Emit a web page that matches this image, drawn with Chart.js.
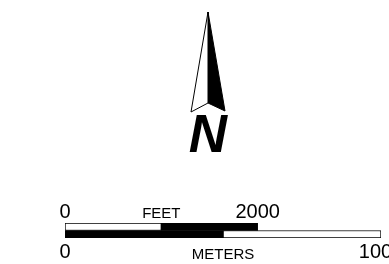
<!DOCTYPE html>
<html>
<head>
<meta charset="utf-8">
<script src="https://cdn.jsdelivr.net/npm/chart.js@4"></script>
<style>
  html, body { margin: 0; padding: 0; background: #fff; }
  #page { position: relative; width: 389px; height: 264px; overflow: hidden; }
  #arrowChart { position: absolute; left: 178px; top: 0; }
  #scaleChart { position: absolute; left: 0; top: 190px; }
</style>
</head>
<body>
<div id="page">
  <canvas id="arrowChart" width="60" height="160"></canvas>
  <canvas id="scaleChart" width="420" height="82"></canvas>
</div>
<script>
// north arrow outline (x across, y up from the base)
const arrowLeftX = [0, -17, 0, 0];
const arrowLeftY = [100, 0, 9, 100];
const arrowRightX = [0, 0, 17, 0];
const arrowRightY = [100, 9, 1, 100];
const northLabel = "N";

// scale bar
const units = ["FEET", "METERS"];
const feetSegments = [[0, 1000], [1000, 2000]];
const meterSegments = [[0, 500], [500, 1000]];
const feetSegmentColors = ["#ffffff", "#000000"];
const meterSegmentColors = ["#000000", "#ffffff"];
const feetTicks = [0, 1000, 2000];
const feetTickLabels = ["0", "FEET", "2000"];
const meterTicks = [0, 500, 1000];
const meterTickLabels = ["0", "METERS", "1000"];
const FEET_TO_M = 0.3048;

Chart.defaults.font.family = "'Liberation Sans', Arial, sans-serif";
Chart.defaults.color = "#000";

const toPoints = (xs, ys) => xs.map((x, i) => ({ x: x, y: ys[i] }));

new Chart(document.getElementById("arrowChart").getContext("2d"), {
  type: "scatter",
  data: {
    datasets: [
      {
        data: toPoints(arrowLeftX, arrowLeftY),
        showLine: true,
        fill: "shape",
        backgroundColor: "#ffffff",
        borderColor: "#000000",
        borderWidth: 1
      },
      {
        data: toPoints(arrowRightX, arrowRightY),
        showLine: true,
        fill: "shape",
        backgroundColor: "#000000",
        borderColor: "#000000",
        borderWidth: 1
      }
    ]
  },
  options: {
    responsive: false,
    animation: false,
    events: [],
    devicePixelRatio: 1,
    layout: { padding: { top: 10, bottom: 0 } },
    elements: { point: { radius: 0 }, line: { tension: 0 } },
    plugins: {
      legend: { display: false },
      tooltip: { enabled: false },
      title: {
        display: true,
        text: northLabel,
        position: "bottom",
        padding: 0,
        color: "#000",
        font: {
          family: "'Liberation Sans Narrow', 'Liberation Sans', Arial, sans-serif",
          size: 53,
          style: "italic",
          weight: "bold",
          lineHeight: "46px"
        }
      }
    },
    scales: {
      x: { type: "linear", min: -30, max: 30, display: false },
      y: { type: "linear", min: -2, max: 102, display: false }
    }
  }
});

const tickFont = (bigLH, smallLH) => (ctx) => ctx.index === 1
  ? { size: 15, lineHeight: smallLH + "px" }
  : { size: 20, lineHeight: bigLH + "px" };

new Chart(document.getElementById("scaleChart").getContext("2d"), {
  type: "bar",
  data: {
    labels: units,
    datasets: [
      { data: [feetSegments[0], null], backgroundColor: feetSegmentColors[0], borderWidth: 1, xAxisID: "feet" },
      { data: [feetSegments[1], null], backgroundColor: feetSegmentColors[1], borderWidth: 0, xAxisID: "feet" },
      { data: [null, meterSegments[0]], backgroundColor: meterSegmentColors[0], borderWidth: 0, xAxisID: "meters" },
      { data: [null, meterSegments[1]], backgroundColor: meterSegmentColors[1], borderWidth: 1, xAxisID: "meters" }
    ]
  },
  options: {
    indexAxis: "y",
    responsive: false,
    animation: false,
    events: [],
    devicePixelRatio: 1,
    layout: { padding: { left: 65, right: 39, top: 11, bottom: 0 } },
    datasets: {
      bar: {
        grouped: false,
        barPercentage: 1,
        categoryPercentage: 1,
        borderColor: "#000000",
        borderSkipped: false
      }
    },
    plugins: {
      legend: { display: false },
      tooltip: { enabled: false }
    },
    scales: {
      y: { type: "category", display: false },
      feet: {
        type: "linear",
        axis: "x",
        position: "top",
        min: 0,
        max: meterTicks[meterTicks.length - 1] / FEET_TO_M,
        grid: { display: false, drawTicks: false },
        border: { display: false },
        afterBuildTicks: (axis) => { axis.ticks = feetTicks.map(v => ({ value: v })); },
        ticks: {
          padding: 0,
          autoSkip: false,
          maxRotation: 0,
          callback: (v, i) => feetTickLabels[i],
          font: tickFont(22, 19)
        }
      },
      meters: {
        type: "linear",
        axis: "x",
        position: "bottom",
        min: 0,
        max: meterTicks[meterTicks.length - 1],
        grid: { display: false, drawTicks: false },
        border: { display: false },
        afterBuildTicks: (axis) => { axis.ticks = meterTicks.map(v => ({ value: v })); },
        ticks: {
          padding: 0,
          autoSkip: false,
          maxRotation: 0,
          callback: (v, i) => meterTickLabels[i],
          font: tickFont(29, 34)
        }
      }
    }
  }
});
</script>
</body>
</html>
